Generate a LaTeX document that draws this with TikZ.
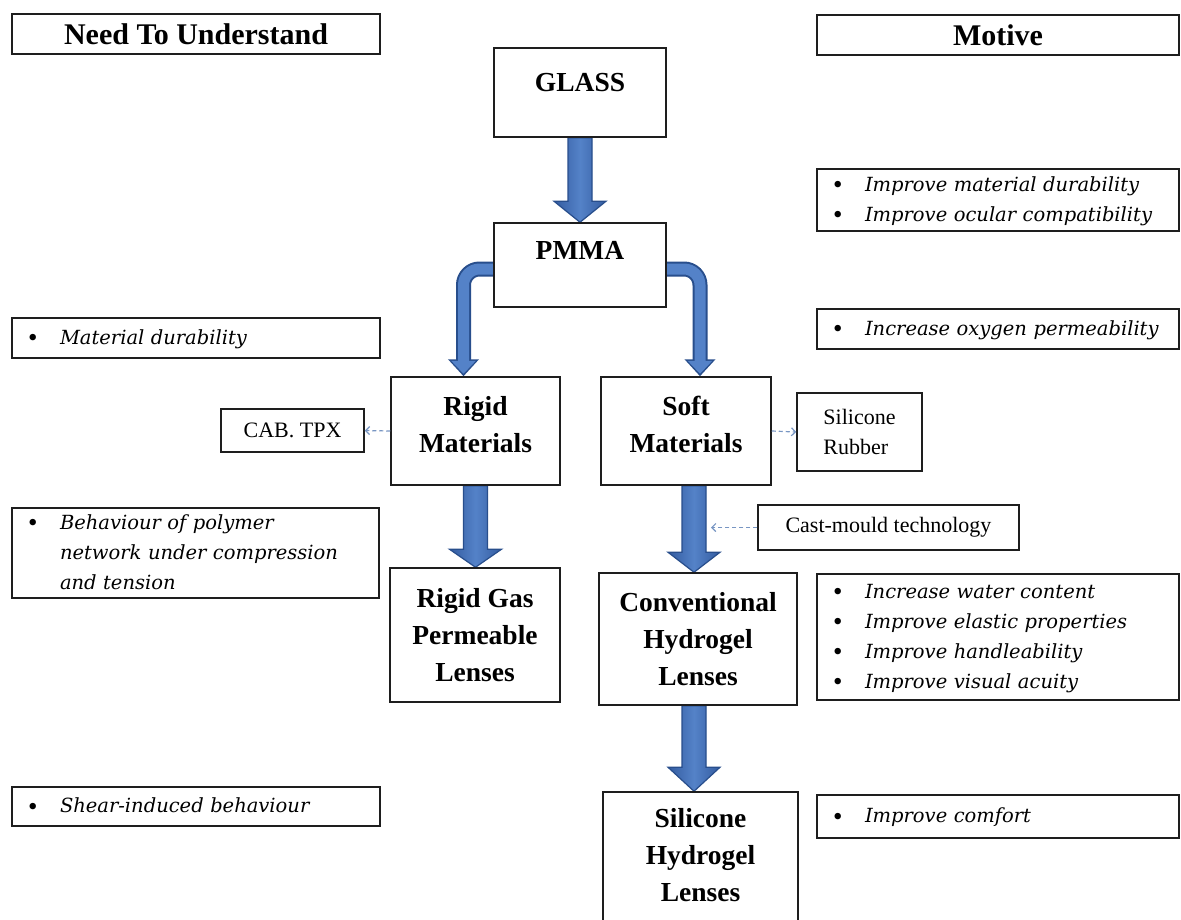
\documentclass[tikz,border=0pt]{standalone}
\usepackage{fontspec}
\setmainfont{Liberation Serif}
\newfontfamily\slab{DejaVu Serif}
\usetikzlibrary{arrows.meta,calc}
\pgfdeclarelayer{background}
\pgfsetlayers{background,main}
\definecolor{boxline}{RGB}{30,30,30}
\definecolor{arrowfill}{RGB}{84,130,200}
\definecolor{arrowline}{RGB}{40,78,140}
\definecolor{arrowdark}{RGB}{52,92,160}
\definecolor{dashcol}{RGB}{120,150,195}
\newcommand\blist[1]{\begin{tabular}{@{}p{32pt}@{}l@{}}#1\end{tabular}}
\newcommand\bigbullet{\raisebox{-2.5pt}{\fontsize{27}{27}\selectfont\textbullet}}
\newcommand\bitem[1]{\bigbullet & {\slab\itshape #1}\\}
\newcommand\bcont[1]{ & {\slab\itshape #1}\\}
\newcommand\blockarrow[4]{\draw[barrow] let \p1=([xshift=#3]#1.south), \p2=(#2.north) in
  (\x1-12pt,\y1) -- (\x1-12pt,\y2+#4) -- (\x1-26pt,\y2+#4) -- (\x1,\y2) --
  (\x1+26pt,\y2+#4) -- (\x1+12pt,\y2+#4) -- (\x1+12pt,\y1) -- cycle;}
\tikzset{
  box/.style={draw=boxline, line width=1.5pt, fill=white, inner sep=0pt, align=center},
  mainbox/.style={box, font=\fontsize{27.5}{37}\selectfont\bfseries},
  headbox/.style={box, font=\fontsize{30}{34}\selectfont\bfseries},
  plainbox/.style={box, font=\fontsize{22}{30}\selectfont},
  bulletbox/.style={box, align=left, inner xsep=16pt, font=\fontsize{19.5}{30}\selectfont},
  barrow/.style={left color=arrowdark, right color=arrowdark, middle color=arrowfill, draw=arrowline, line width=1.2pt, line join=miter},
  cout/.style={line width=15pt, draw=arrowline, rounded corners=16pt, -{Triangle[length=17pt,width=30pt]}},
  cin/.style={line width=11pt, draw=arrowfill, rounded corners=16pt, shorten >=2.5pt, -{Triangle[length=13pt,width=24pt]}},
  darrow/.style={draw=dashcol, line width=1.2pt, dash pattern=on 4pt off 3pt, -{Straight Barb[length=4pt,width=8pt]}},
}
\begin{document}
\begin{tikzpicture}[x=1pt,y=-1pt]
\useasboundingbox (0,0) rectangle (1181,919);
\clip (0,0) rectangle (1181,919);
% headers
\node[headbox, minimum width=368pt, minimum height=40pt] (need) at (196,34) {Need To Understand};
\node[headbox, minimum width=362pt, minimum height=40pt] (motive) at (998,35) {Motive};
% main chain
\node[mainbox, minimum width=172pt, minimum height=89pt, text depth=21pt] (glass) at (580,92.5) {GLASS};
\node[mainbox, minimum width=172pt, minimum height=84pt, text depth=30pt] (pmma) at (580,265) {PMMA};
\node[mainbox, minimum width=169pt, minimum height=108pt, text depth=14pt] (rigid) at (475.5,431) {Rigid\\Materials};
\node[mainbox, minimum width=170pt, minimum height=108pt, text depth=14pt] (soft) at (686,431) {Soft\\Materials};
\node[mainbox, minimum width=170pt, minimum height=134pt] (rgp) at (475,635) {Rigid Gas\\Permeable\\Lenses};
\node[mainbox, minimum width=198pt, minimum height=132pt] (conv) at (698,639) {Conventional\\Hydrogel\\Lenses};
\node[mainbox, minimum width=195pt, minimum height=143pt, text depth=18pt] (silhyd) at (700.5,863.5) {Silicone\\Hydrogel\\Lenses};
% side boxes
\node[plainbox, minimum width=143pt, minimum height=43pt] (cab) at (292.5,430.5) {CAB. TPX};
\node[plainbox, align=left, minimum width=125pt, minimum height=78pt] (rubber) at (859.5,432) {Silicone\\Rubber};
\node[plainbox, minimum width=261pt, minimum height=45pt] (cast) at (888.5,527.5) {Cast-mould technology};
% bullet boxes left
\node[bulletbox, minimum width=368pt, text width=336pt, minimum height=40pt] (needA) at (196,338) {\blist{\bitem{Material durability}}};
\node[bulletbox, minimum width=367pt, text width=335pt, minimum height=90pt] (needB) at (195.5,553) {\blist{\bitem{Behaviour of polymer}\bcont{network under compression}\bcont{and tension}}};
\node[bulletbox, minimum width=368pt, text width=336pt, minimum height=39pt] (needC) at (196,806.5) {\blist{\bitem{Shear-induced behaviour}}};
% bullet boxes right
\node[bulletbox, minimum width=362pt, text width=330pt, minimum height=62pt] (motA) at (998,200) {\blist{\bitem{Improve material durability}\bitem{Improve ocular compatibility}}};
\node[bulletbox, minimum width=362pt, text width=330pt, minimum height=40pt] (motB) at (998,329) {\blist{\bitem{Increase oxygen permeability}}};
\node[bulletbox, minimum width=362pt, text width=330pt, minimum height=126pt] (motC) at (998,637) {\blist{\bitem{Increase water content}\bitem{Improve elastic properties}\bitem{Improve handleability}\bitem{Improve visual acuity}}};
\node[bulletbox, minimum width=362pt, text width=330pt, minimum height=43pt] (motD) at (998,816.5) {\blist{\bitem{Improve comfort}}};
% connectors
\begin{pgfonlayer}{background}
\fill[white] (0,0) rectangle (1181,919);
\blockarrow{glass}{pmma}{0pt}{21pt}
\blockarrow{rigid}{rgp}{0pt}{18pt}
\blockarrow{soft}{conv}{8pt}{20pt}
\blockarrow{conv}{silhyd}{-4pt}{24pt}
\draw[cout] ([yshift=-4pt]pmma.west) -| ([xshift=-12pt]rigid.north);
\draw[cin] ([yshift=-4pt]pmma.west) -| ([xshift=-12pt]rigid.north);
\draw[cout] ([yshift=-4pt]pmma.east) -| ([xshift=14pt]soft.north);
\draw[cin] ([yshift=-4pt]pmma.east) -| ([xshift=14pt]soft.north);
\end{pgfonlayer}
\draw[darrow] (rigid.west) -- (cab.east);
\draw[darrow] (soft.east) -- (rubber.west);
\coordinate (castend) at (711,527.5);
\draw[darrow] (cast.west) -- (castend);
\end{tikzpicture}
\end{document}
